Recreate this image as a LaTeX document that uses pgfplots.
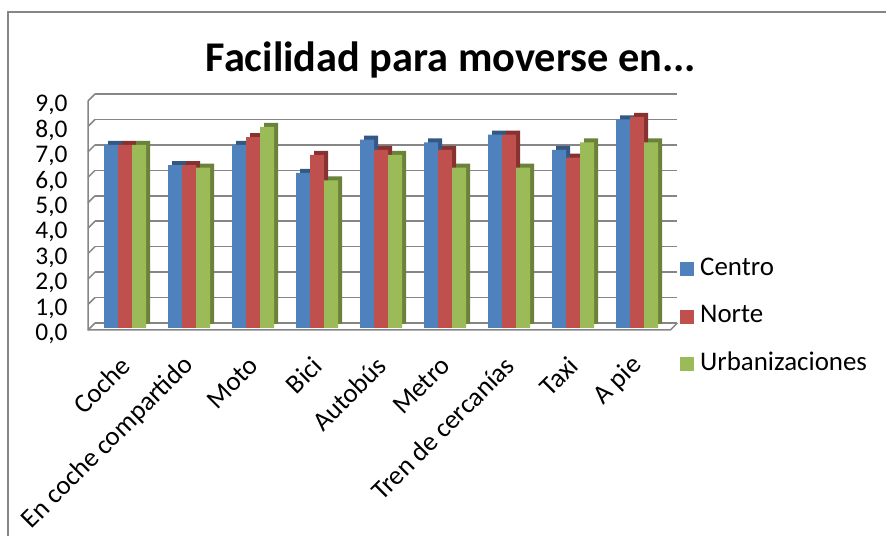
\documentclass[border=0pt]{standalone}
\usepackage{pgfplots}
\pgfplotsset{compat=1.18}
\usepackage{pgfplotstable}
\usepackage{fontspec}
\setmainfont{Carlito}
\definecolor{cblue}{RGB}{79,129,189}
\definecolor{cred}{RGB}{192,80,77}
\definecolor{cgreen}{RGB}{155,187,89}
\definecolor{dblue}{RGB}{52,88,132}
\definecolor{dred}{RGB}{134,50,48}
\definecolor{dgreen}{RGB}{106,130,58}
\definecolor{gridgray}{RGB}{134,134,134}

\pgfplotstableread{
idx centro norte urb
0 7.2 7.2 7.2
1 6.4 6.4 6.3
2 7.2 7.5 7.9
3 6.1 6.8 5.8
4 7.4 7.0 6.8
5 7.3 7.0 6.3
6 7.6 7.6 6.3
7 7.0 6.7 7.3
8 8.2 8.3 7.3
}\datatable

\begin{document}
\begin{tikzpicture}[x=1bp,y=1bp]
\useasboundingbox (0,0) rectangle (886,536);
\fill[white] (0,0) rectangle (886,536);
\draw[gridgray, line width=1.5bp] (8,-5) -- (8,524) -- (890,524);
\node[font=\bfseries\fontsize{42.5}{50}\selectfont] at (451,476) {Facilidad para moverse en...};
\begin{axis}[
  at={(95bp,213bp)}, anchor=south west,
  scale only axis, width=582.4bp, height=229bp,
  xmin=-0.5, xmax=8.6, ymin=0, ymax=9,
  clip=false,
  axis line style={draw=none},
  major tick length=0pt,
  ytick={0,1,...,9},
  ymajorgrids, grid style={gridgray, line width=1.5bp},
  xtick={0,...,8},
  xticklabels={Coche, En coche compartido, Moto, Bici, Autobús, Metro, Tren de cercanías, Taxi, A pie},
  yticklabel style={font=\fontsize{25.5}{30}\selectfont},
  xticklabel style={font=\fontsize{27}{32}\selectfont},
  /pgf/number format/assume math mode=true,
  yticklabel style={/pgf/number format/.cd, fixed, fixed zerofill, precision=1, use comma, /tikz/.cd, xshift=-24bp, yshift=-11bp},
  xticklabel style={yshift=-36bp, xshift=1bp, rotate=45, anchor=east},
  legend image code/.code={\fill[#1] (0bp,-7bp) rectangle (14bp,7bp);},
  legend style={draw=none, fill=none, font=\fontsize{27}{32}\selectfont,
    at={(axis description cs:0.9993,0.028)}, anchor=west,
    row sep=23.5bp,
    nodes={inner sep=0pt, text height=18bp, text depth=6bp},
    /tikz/every odd column/.append style={column sep=6bp}},
  legend cell align=left,
]
\pgfplotsinvokeforeach{0,...,9}{\draw[gridgray, line width=1.5bp] (axis cs:-0.5,#1) -- ++(-7bp,-7bp);}
\draw[gridgray, line width=1.5bp] ([shift={(-7bp,-7bp)}]axis cs:-0.5,9) -- ([shift={(-7bp,-7bp)}]axis cs:-0.5,0) -- ([shift={(-7bp,-7bp)}]axis cs:8.6,0) -- (axis cs:8.6,0);

\addplot[ybar, bar width=14bp, bar shift=-14bp, fill=dblue, draw=none, xshift=2bp, yshift=-1bp, forget plot] table[x=idx,y=centro]{\datatable};
\addplot[ybar, bar width=14bp, bar shift=-14bp, fill=cblue, draw=none, xshift=-2bp, yshift=-5bp, forget plot] table[x=idx,y=centro]{\datatable};
\addplot[ybar, bar width=14bp, bar shift=0bp, fill=dred, draw=none, xshift=2bp, yshift=-1bp, forget plot] table[x=idx,y=norte]{\datatable};
\addplot[ybar, bar width=14bp, bar shift=0bp, fill=cred, draw=none, xshift=-2bp, yshift=-5bp, forget plot] table[x=idx,y=norte]{\datatable};
\addplot[ybar, bar width=14bp, bar shift=14bp, fill=dgreen, draw=none, xshift=2bp, yshift=-1bp, forget plot] table[x=idx,y=urb]{\datatable};
\addplot[ybar, bar width=14bp, bar shift=14bp, fill=cgreen, draw=none, xshift=-2bp, yshift=-5bp, forget plot] table[x=idx,y=urb]{\datatable};

\addlegendimage{fill=cblue, draw=none}
\addlegendentry{Centro}
\addlegendimage{fill=cred, draw=none}
\addlegendentry{Norte}
\addlegendimage{fill=cgreen, draw=none}
\addlegendentry{Urbanizaciones}
\end{axis}
\end{tikzpicture}
\end{document}
